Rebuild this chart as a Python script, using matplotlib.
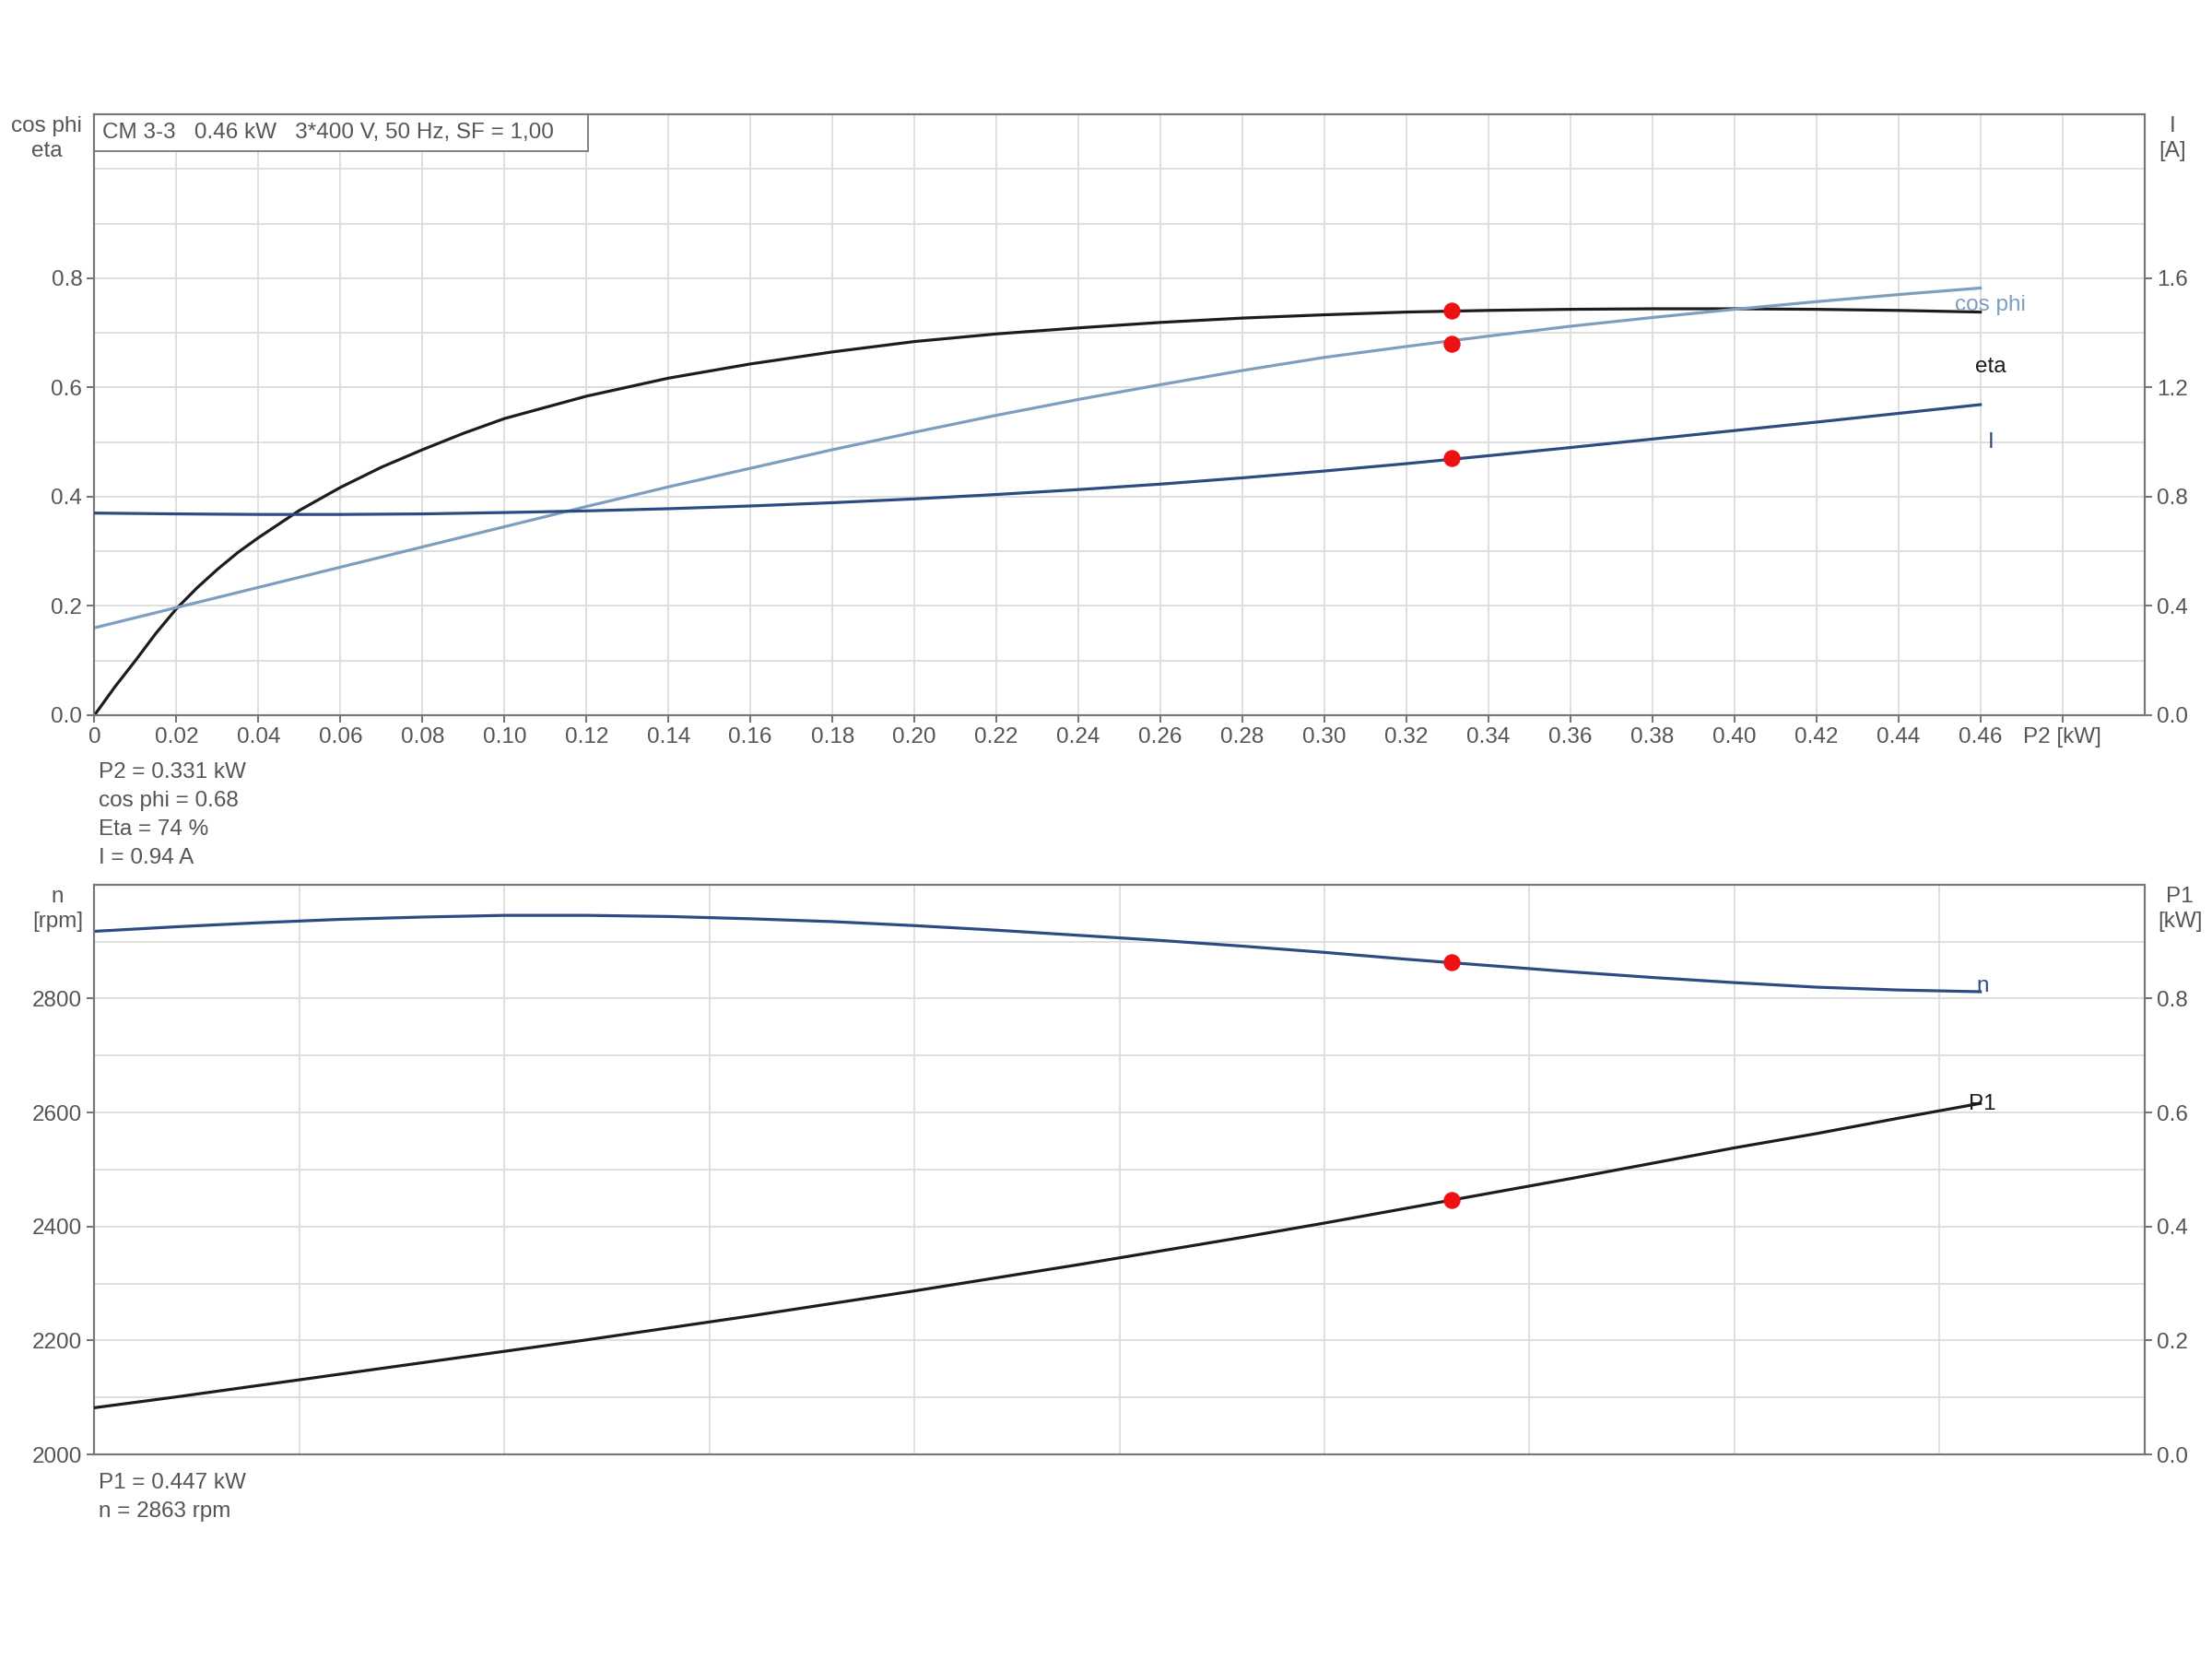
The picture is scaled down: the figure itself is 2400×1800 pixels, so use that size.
import numpy as np
import matplotlib
matplotlib.use("Agg")
import matplotlib.pyplot as plt
from matplotlib.patches import Rectangle

plt.rcParams['font.family'] = ['Liberation Sans', 'DejaVu Sans']

# ---- data ----
title = "CM 3-3   0.46 kW   3*400 V, 50 Hz, SF = 1,00"

p2 = [0.00, 0.02, 0.04, 0.06, 0.08, 0.10, 0.12, 0.14, 0.16, 0.18, 0.20, 0.22,
      0.24, 0.26, 0.28, 0.30, 0.32, 0.34, 0.36, 0.38, 0.40, 0.42, 0.44, 0.46]

p2_eta = [0.00, 0.005, 0.01, 0.015, 0.02, 0.025, 0.03, 0.035, 0.04, 0.05, 0.06, 0.07,
          0.08, 0.09, 0.10, 0.12, 0.14, 0.16, 0.18, 0.20, 0.22, 0.24, 0.26, 0.28,
          0.30, 0.32, 0.34, 0.36, 0.38, 0.40, 0.42, 0.44, 0.46]
eta = [0.000, 0.052, 0.100, 0.150, 0.195, 0.233, 0.267, 0.298, 0.325, 0.375, 0.417, 0.454,
       0.486, 0.516, 0.543, 0.584, 0.617, 0.643, 0.665, 0.684, 0.698, 0.709, 0.719, 0.727,
       0.733, 0.738, 0.741, 0.743, 0.744, 0.744, 0.743, 0.741, 0.738]

cos_phi = [0.160, 0.197, 0.234, 0.271, 0.308, 0.345, 0.382, 0.418, 0.452, 0.486, 0.518, 0.549,
           0.578, 0.605, 0.631, 0.655, 0.675, 0.694, 0.712, 0.728, 0.743, 0.757, 0.770, 0.782]

current = [0.740, 0.737, 0.735, 0.735, 0.737, 0.742, 0.748, 0.756, 0.766, 0.778, 0.792, 0.808,
           0.826, 0.846, 0.869, 0.894, 0.921, 0.950, 0.980, 1.011, 1.042, 1.073, 1.105, 1.137]

speed = [2918, 2926, 2933, 2939, 2943, 2946, 2946, 2944, 2940, 2935, 2928, 2920,
         2911, 2902, 2892, 2881, 2869, 2858, 2847, 2837, 2828, 2820, 2815, 2812]

p1 = [0.082, 0.101, 0.121, 0.141, 0.161, 0.181, 0.201, 0.222, 0.243, 0.265, 0.287, 0.310,
      0.333, 0.357, 0.381, 0.406, 0.432, 0.458, 0.484, 0.511, 0.538, 0.563, 0.590, 0.616]

# duty point
op_p2 = 0.331
op_eta = 0.74
op_cos = 0.68
op_i = 0.94
op_p1 = 0.447
op_n = 2863

top_xticks = [0.00, 0.02, 0.04, 0.06, 0.08, 0.10, 0.12, 0.14, 0.16, 0.18, 0.20, 0.22,
              0.24, 0.26, 0.28, 0.30, 0.32, 0.34, 0.36, 0.38, 0.40, 0.42, 0.44, 0.46, 0.48]
top_xlabels = ["0", "0.02", "0.04", "0.06", "0.08", "0.10", "0.12", "0.14", "0.16", "0.18",
               "0.20", "0.22", "0.24", "0.26", "0.28", "0.30", "0.32", "0.34", "0.36", "0.38",
               "0.40", "0.42", "0.44", "0.46", "P2 [kW]"]

c_eta = "#1c1c1c"
c_cos = "#7d9ec0"
c_i = "#2b4c80"
c_red = "#ee1111"
c_txt = "#555555"
c_grid = "#dcdcdc"
c_spine = "#777777"
fs = 17.5

fig = plt.figure(figsize=(24, 18), dpi=100)
L, R = 0.0427, 0.9694
ax1 = fig.add_axes([L, 0.5689, R - L, 0.9311 - 0.5689])
ax2 = fig.add_axes([L, 0.1233, R - L, 0.4668 - 0.1233])


def style(ax):
    for s in ax.spines.values():
        s.set_color(c_spine)
        s.set_linewidth(1.5)
    ax.tick_params(colors=c_spine, labelcolor=c_txt, labelsize=fs, length=6, width=1.5)
    ax.set_axisbelow(True)


# ---------- top chart ----------
ax1.plot(p2_eta, eta, color=c_eta, lw=2.3, zorder=3)
ax1.plot(p2, cos_phi, color=c_cos, lw=2.3, zorder=3)
ax1.set_xlim(0, 0.5)
ax1.set_ylim(0, 1.1)
ax1.set_yticks([0, 0.2, 0.4, 0.6, 0.8])
ax1.set_yticklabels(["0.0", "0.2", "0.4", "0.6", "0.8"])
ax1.set_yticks(np.arange(0, 1.11, 0.1), minor=True)
ax1.set_xticks(top_xticks)
ax1.set_xticklabels(top_xlabels)
ax1.tick_params(axis="y", which="minor", length=0)
ax1.grid(True, which="both", color=c_grid, lw=1.3)
style(ax1)

ax1r = ax1.twinx()
ax1r.plot(p2, current, color=c_i, lw=2.3, zorder=3)
ax1r.set_ylim(0, 2.2)
ax1r.set_yticks([0, 0.4, 0.8, 1.2, 1.6])
ax1r.set_yticklabels(["0.0", "0.4", "0.8", "1.2", "1.6"])
style(ax1r)

ax1.scatter([op_p2, op_p2], [op_eta, op_cos], s=150, color=c_red, zorder=5)
ax1r.scatter([op_p2], [op_i], s=150, color=c_red, zorder=5)

ax1.text(0.4625, 0.751, "cos phi", color=c_cos, fontsize=fs, ha="center", va="center")
ax1.text(0.4625, 0.638, "eta", color=c_eta, fontsize=fs, ha="center", va="center")
ax1.text(0.4625, 0.499, "I", color=c_i, fontsize=fs, ha="center", va="center")

# title box sitting in the top-left corner of the upper chart
ax1.add_patch(Rectangle((0, 0.939), 0.241, 0.061, transform=ax1.transAxes,
                        fc="white", ec=c_spine, lw=1.3, zorder=6))
ax1.text(0.004, 0.9695, title, transform=ax1.transAxes, fontsize=fs, color=c_txt,
         ha="left", va="center", zorder=7)

fig.text(0.021, 0.9165, "cos phi\neta", fontsize=fs, color=c_txt, ha="center", va="center",
         linespacing=1.3)
fig.text(0.982, 0.9165, "I\n[A]", fontsize=fs, color=c_txt, ha="center", va="center",
         linespacing=1.3)

info_top = [f"P2 = {op_p2} kW", f"cos phi = {op_cos}", f"Eta = {int(op_eta * 100)} %",
            f"I = {op_i} A"]
for k, s in enumerate(info_top):
    fig.text(0.0445, 0.5345 - k * 0.0172, s, fontsize=fs, color=c_txt, ha="left", va="center")

# ---------- bottom chart ----------
ax2.plot(p2, speed, color=c_i, lw=2.3, zorder=3)
ax2.set_xlim(0, 0.5)
ax2.set_ylim(2000, 3000)
ax2.set_yticks([2000, 2200, 2400, 2600, 2800])
ax2.set_yticks(np.arange(2000, 3001, 100), minor=True)
ax2.set_xticks(np.arange(0, 0.51, 0.05))
ax2.tick_params(axis="y", which="minor", length=0)
ax2.grid(True, which="both", color=c_grid, lw=1.3)
style(ax2)
ax2.tick_params(axis="x", length=0, labelbottom=False)

ax2r = ax2.twinx()
ax2r.plot(p2, p1, color=c_eta, lw=2.3, zorder=3)
ax2r.set_ylim(0, 1.0)
ax2r.set_yticks([0, 0.2, 0.4, 0.6, 0.8])
ax2r.set_yticklabels(["0.0", "0.2", "0.4", "0.6", "0.8"])
style(ax2r)

ax2.scatter([op_p2], [op_n], s=150, color=c_red, zorder=5)
ax2r.scatter([op_p2], [op_p1], s=150, color=c_red, zorder=5)

ax2.text(0.4605, 2822, "n", color=c_i, fontsize=fs, ha="center", va="center")
ax2r.text(0.4605, 0.614, "P1", color=c_eta, fontsize=fs, ha="center", va="center")

fig.text(0.026, 0.452, "n\n[rpm]", fontsize=fs, color=c_txt, ha="center", va="center",
         linespacing=1.3)
fig.text(0.9855, 0.452, "P1\n[kW]", fontsize=fs, color=c_txt, ha="center", va="center",
         linespacing=1.3)

info_bot = [f"P1 = {op_p1} kW", f"n = {op_n} rpm"]
for k, s in enumerate(info_bot):
    fig.text(0.0445, 0.1062 - k * 0.0172, s, fontsize=fs, color=c_txt, ha="left", va="center")

fig.savefig("out.png", dpi=100, facecolor="white")
